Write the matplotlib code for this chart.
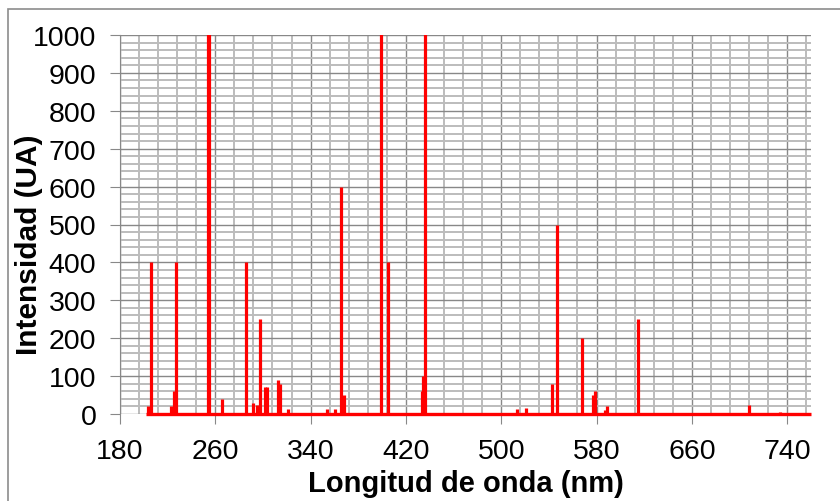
import numpy as np
import matplotlib.pyplot as plt
from matplotlib.patches import Rectangle

plt.rcParams['font.family'] = ['Liberation Sans', 'DejaVu Sans']

# Emission lines (wavelength in nm, intensity in UA)
wavelengths = [203.8, 206, 222.6, 225.4, 227, 254, 255, 265.9, 285.6, 292, 294.8,
               297.3, 301.5, 303, 312.9, 314.4, 321.3, 353.8, 360.8, 365.6, 367.7,
               398.9, 405.3, 433.9, 434.7, 436.1, 513.2, 520.7, 542.5, 546.7,
               567.7, 576.6, 579.1, 586.7, 589, 614.8, 708.2, 734.3]
intensities = [20, 400, 20, 60, 400, 1100, 1100, 40, 400, 30, 25,
               250, 70, 70, 90, 80, 12, 12, 12, 600, 50,
               1100, 400, 60, 100, 1100, 12, 15, 80, 500,
               200, 50, 60, 10, 20, 250, 25, 6]
range_start, range_end = 202, 760
x_ticks = [180, 260, 340, 420, 500, 580, 660, 740]

fig = plt.figure(figsize=(8.4, 5.02), dpi=100)
ax = fig.add_axes([120 / 840, 1 - 415 / 502, 691 / 840, 379 / 502])

# outer chart frame (only left and top edges visible)
fig.patches.append(Rectangle((8 / 840, -0.1), 1.2, (1 - 10 / 502) + 0.1,
                             transform=fig.transFigure, fill=False,
                             edgecolor='#8c8c8c', linewidth=1.2))

ax.vlines(wavelengths, 0, intensities, colors='#ff0000', linewidth=2.3, zorder=3)
ax.plot([range_start, range_end], [0, 0], color='#ff0000', linewidth=2.4,
        solid_capstyle='butt', zorder=3, clip_on=False)

ax.set_xlim(180, 760)
ax.set_ylim(0, 1000)
ax.set_xticks(x_ticks)
ax.set_xticks(np.arange(180, 760, 16), minor=True)
ax.set_yticks(np.arange(0, 1001, 100))
ax.set_yticks(np.arange(0, 1001, 20), minor=True)

ax.grid(which='major', color='#888888', linewidth=1.0, zorder=1)
ax.grid(which='minor', color='#bcbcbc', linewidth=1.4, zorder=0)
ax.set_axisbelow(True)

for side in ['top', 'right', 'bottom']:
    ax.spines[side].set_visible(False)
ax.spines['left'].set_color('#888888')

ax.tick_params(which='major', direction='out', length=7, color='#888888',
               labelsize=20.5)
ax.tick_params(axis='x', which='major', pad=10)
ax.tick_params(axis='y', which='major', pad=10)
ax.tick_params(which='minor', length=0)

ax.set_xlabel('Longitud de onda (nm)', fontsize=21, fontweight='bold')
ax.set_ylabel('Intensidad (UA)', fontsize=21.5, fontweight='bold')
ax.xaxis.set_label_coords(0.5, -0.145)
ax.yaxis.set_label_coords(-0.111, 0.449)

fig.savefig('out.png', dpi=100)
